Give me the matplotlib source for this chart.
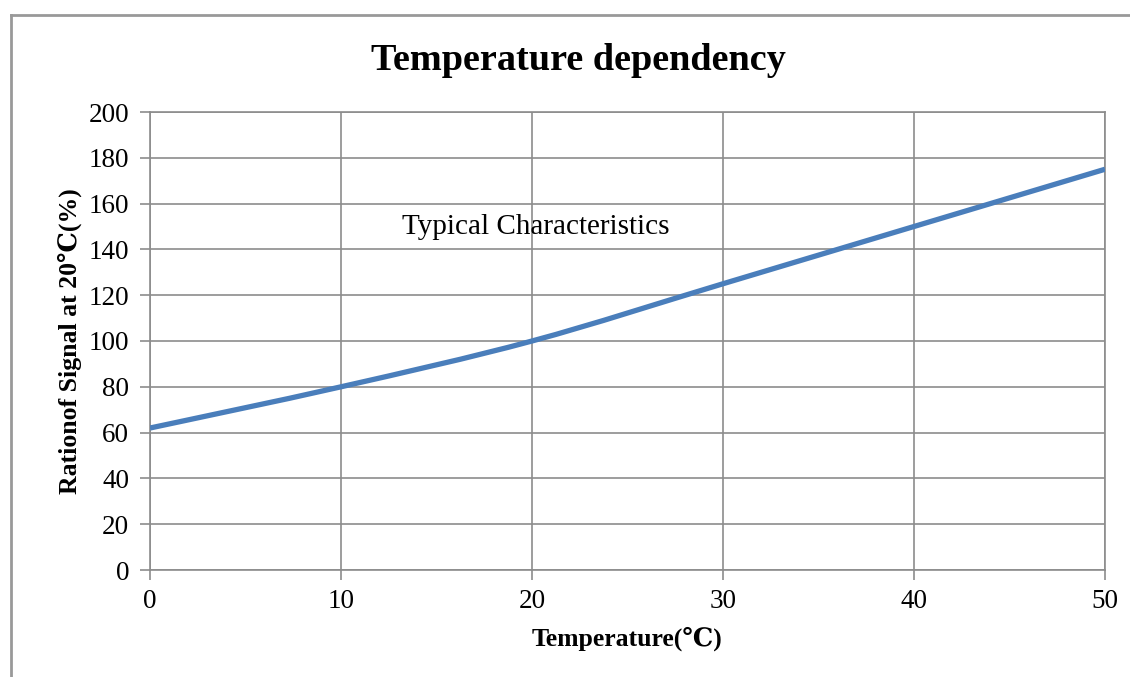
import numpy as np
import matplotlib
matplotlib.use("Agg")
import matplotlib.pyplot as plt
from matplotlib.lines import Line2D
from matplotlib.path import Path
from matplotlib.patches import PathPatch

# values
temperature = [0, 10, 20, 30, 40, 50]
ratio = [62, 80, 100, 125, 150, 175]
x_ticks = [0, 10, 20, 30, 40, 50]
y_ticks = [0, 20, 40, 60, 80, 100, 120, 140, 160, 180, 200]

serif = ['Liberation Serif', 'DejaVu Serif']
plt.rcParams['font.family'] = serif

grid_col = '#8c8c8c'
line_col = '#4a7ebb'

fig = plt.figure(figsize=(11.3, 6.77), dpi=100)
ax = fig.add_axes([150/1130, 1-570/677, (1105-150)/1130, (570-112)/677])

# smoothed line like the spreadsheet one: catmull-rom as cubic bezier segments
pts = np.column_stack([temperature, ratio]).astype(float)
ext = np.vstack([pts[0], pts, pts[-1]])
verts = [tuple(pts[0])]
codes = [Path.MOVETO]
for i in range(len(pts) - 1):
    p0, p1, p2, p3 = ext[i], ext[i+1], ext[i+2], ext[i+3]
    c1 = p1 + (p2 - p0) / 6
    c2 = p2 - (p3 - p1) / 6
    verts += [tuple(c1), tuple(c2), tuple(p2)]
    codes += [Path.CURVE4] * 3
ax.add_patch(PathPatch(Path(verts, codes), facecolor='none', edgecolor=line_col,
                       lw=3.8, capstyle='butt', zorder=3))

ax.set_xlim(0, 50)
ax.set_ylim(0, 200)
ax.set_xticks(x_ticks)
ax.set_yticks(y_ticks)
ax.grid(True, color=grid_col, lw=1.2)
ax.set_axisbelow(True)
for s in ax.spines.values():
    s.set_color(grid_col)
    s.set_linewidth(1.2)
ax.tick_params(axis='both', colors=grid_col, labelcolor='black', length=7, width=1.2,
               labelsize=19.5, direction='out')
ax.tick_params(axis='x', pad=7)
ax.tick_params(axis='y', pad=8)

ax.set_xlabel('Temperature(℃)', fontsize=18.5, fontweight='bold', labelpad=9)
ax.set_ylabel('Rationof Signal at 20℃(%)', fontsize=18.5, fontweight='bold', labelpad=5)

ax.text(20.2, 150, 'Typical Characteristics', fontsize=21, ha='center', va='center')

fig.text(578/1130, 1-60/677, 'Temperature dependency', fontsize=27.5, fontweight='bold',
         ha='center', va='center')

# outer chart border (left and top visible)
fig.add_artist(Line2D([11/1130, 11/1130], [0, 1-15/677], transform=fig.transFigure,
                      color='#999999', lw=2))
fig.add_artist(Line2D([11/1130, 1], [1-15/677, 1-15/677], transform=fig.transFigure,
                      color='#999999', lw=2))

fig.savefig('out.png', dpi=100)
